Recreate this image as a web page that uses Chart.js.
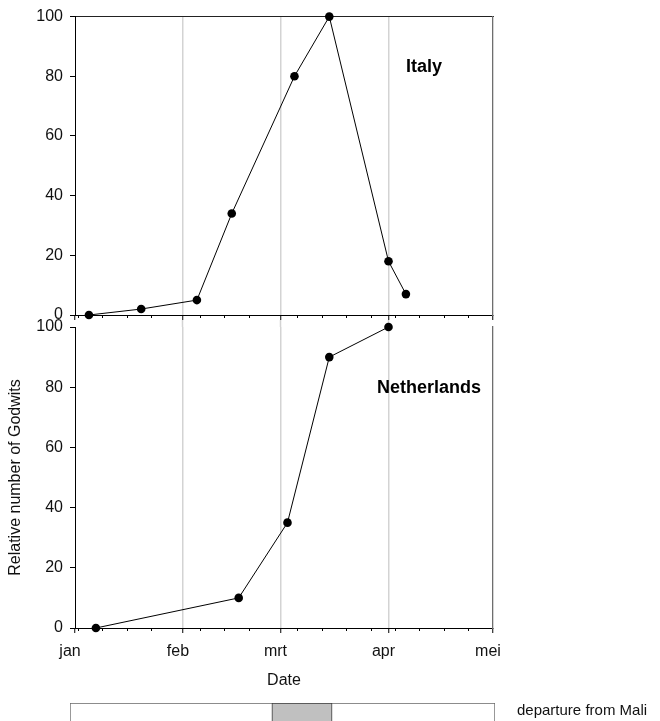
<!DOCTYPE html>
<html>
<head>
<meta charset="utf-8">
<title>Relative number of Godwits</title>
<script src="https://cdn.jsdelivr.net/npm/chart.js@4.4.1/dist/chart.umd.min.js"></script>
<style>
  html, body { margin: 0; padding: 0; background: #fff; overflow: hidden; width: 660px; height: 721px; }
  canvas { position: absolute; left: 0; top: 0; }
</style>
</head>
<body>
<canvas id="italy" width="660" height="721"></canvas>
<canvas id="netherlands" width="660" height="721"></canvas>
<canvas id="mali" width="660" height="760"></canvas>
<script>
// Day-of-year axis (1 jan = day 0)
const monthDays = [0, 31, 59, 90, 120];
const monthLabels = ['jan', 'feb', 'mrt', 'apr', 'mei'];
const innerMonthDays = [31, 59, 90];
const weekDays = [1, 8, 15, 22, 36, 43, 50, 64, 71, 78, 85, 92, 99, 106, 113];
const yTicks = [0, 20, 40, 60, 80, 100];

// Italy counts
const italyDays = [4, 19, 35, 45, 63, 73, 90, 95];
const italyValues = [0, 2, 5, 34, 80, 100, 18, 7];

// Netherlands counts
const nlDays = [6, 47, 61, 73, 90];
const nlValues = [0, 10, 35, 90, 100];

// Departure period from Mali
const departureLabel = 'departure from Mali';
const departureWindow = [0, 120];
const departureRange = [57, 74];

const FONT = "'Liberation Sans', Arial, Helvetica, sans-serif";
const GRID_GREY = '#d3d3d3';
Chart.defaults.font.family = FONT;
Chart.defaults.color = '#111';
Chart.defaults.animation = false;
Chart.defaults.responsive = false;
Chart.defaults.devicePixelRatio = 1;
Chart.defaults.plugins.legend.display = false;
Chart.defaults.plugins.tooltip.enabled = false;

const fixW = w => s => { s.width = w; };
const fixH = h => s => { s.height = h; };
const toPoints = (xs, ys) => xs.map((d, i) => ({ x: d, y: ys[i] }));

function panelScales(opts) {
  const scales = {
    xWeek: {
      type: 'linear', position: 'bottom', weight: 0, min: 0, max: 120,
      afterBuildTicks: s => { s.ticks = weekDays.map(v => ({ value: v })); },
      ticks: { display: false, autoSkip: false },
      grid: { drawOnChartArea: false, tickLength: 3, tickColor: '#000', tickWidth: 1 },
      border: { display: false },
      afterFit: fixH(0)
    },
    x: {
      type: 'linear', position: 'bottom', weight: 1, min: 0, max: 120,
      afterBuildTicks: s => { s.ticks = monthDays.map(v => ({ value: v })); },
      ticks: {
        display: opts.labels, autoSkip: false, maxRotation: 0, minRotation: 0,
        callback: (v, i) => monthLabels[i],
        font: { size: 16 }, padding: 9, labelOffset: -5, color: '#111'
      },
      grid: {
        color: c => (c.index > 0 && c.index < monthDays.length - 1) ? GRID_GREY : 'rgba(0,0,0,0)',
        lineWidth: 1.5, tickLength: 5, tickColor: '#000', tickWidth: 1
      },
      border: { display: true, color: '#000', width: 1 },
      title: opts.labels ? { display: true, text: 'Date', font: { size: 16 }, color: '#111', padding: { top: 0, bottom: 0 } } : { display: false },
      afterFit: fixH(opts.xHeight)
    },
    xTop: {
      type: 'linear', position: 'top', weight: 1, min: 0, max: 120, display: opts.topBorder,
      ticks: { display: false },
      grid: { drawOnChartArea: false, drawTicks: false },
      border: { display: true, color: '#222', width: 1 },
      afterFit: fixH(0)
    },
    y: {
      type: 'linear', position: 'left', min: 0, max: 100,
      afterBuildTicks: s => { s.ticks = yTicks.map(v => ({ value: v })); },
      ticks: { font: { size: 16 }, padding: 7, color: '#111' },
      grid: { drawOnChartArea: false, tickLength: 5, tickColor: '#000' },
      border: { display: true, color: '#000', width: 1 },
      title: opts.yTitle ? { display: true, text: 'Relative number of Godwits', font: { size: 16 }, color: '#111', padding: { top: 6, bottom: 0 } } : { display: false },
      afterFit: fixW(75)
    },
    yRight: {
      type: 'linear', position: 'right', min: 0, max: 100,
      ticks: { display: false },
      grid: { drawOnChartArea: false, drawTicks: false },
      border: { display: true, color: '#6e6e6e', width: 1.3 },
      afterFit: fixW(0)
    }
  };
  if (opts.gapGrid) {
    // month grid lines carried up through the gap between the two panels
    scales.xGap = {
      type: 'linear', position: 'top', weight: 0, min: 0, max: 120,
      afterBuildTicks: s => { s.ticks = innerMonthDays.map(v => ({ value: v })); },
      ticks: { display: false, autoSkip: false },
      grid: { drawOnChartArea: false, tickLength: opts.gapGrid, tickColor: GRID_GREY, tickWidth: 1.5 },
      border: { display: false },
      afterFit: fixH(0)
    };
  }
  return scales;
}

function panelLabel(text, cx, cy) {
  return {
    id: 'panelLabel',
    afterDraw(chart) {
      const ctx = chart.ctx;
      ctx.save();
      ctx.font = 'bold 18px ' + FONT;
      ctx.fillStyle = '#000';
      ctx.textAlign = 'center';
      ctx.textBaseline = 'middle';
      ctx.fillText(text, cx, cy);
      ctx.restore();
    }
  };
}

function seriesDataset(xs, ys) {
  return {
    data: toPoints(xs, ys),
    showLine: true,
    borderColor: '#000',
    borderWidth: 1,
    pointRadius: 4.3,
    pointBackgroundColor: '#000',
    pointBorderColor: '#000',
    pointBorderWidth: 0,
    clip: false,
    xAxisID: 'x',
    yAxisID: 'y'
  };
}

new Chart(document.getElementById('italy'), {
  type: 'scatter',
  data: { datasets: [seriesDataset(italyDays, italyValues)] },
  options: {
    layout: { padding: { left: 0, top: 14, right: 167, bottom: 721 - 315 } },
    scales: panelScales({ labels: false, xHeight: 0, topBorder: true, yTitle: false, gapGrid: 0 })
  },
  plugins: [panelLabel('Italy', 424, 67)]
});

new Chart(document.getElementById('netherlands'), {
  type: 'scatter',
  data: { datasets: [seriesDataset(nlDays, nlValues)] },
  options: {
    layout: { padding: { left: 0, top: 327, right: 167, bottom: 721 - 628 - 62 } },
    scales: panelScales({ labels: true, xHeight: 62, topBorder: false, yTitle: true, gapGrid: 7 })
  },
  plugins: [panelLabel('Netherlands', 429, 388)]
});

new Chart(document.getElementById('mali'), {
  type: 'bar',
  data: {
    labels: [departureLabel],
    datasets: [
      { data: [departureRange], backgroundColor: '#c0c0c0', borderColor: '#3a3a3a', borderWidth: 1,
        borderSkipped: false, barPercentage: 1, categoryPercentage: 1, grouped: false },
      { data: [departureWindow], backgroundColor: '#ffffff', borderColor: '#666666', borderWidth: 1,
        borderSkipped: false, barPercentage: 1, categoryPercentage: 1, grouped: false }
    ]
  },
  options: {
    indexAxis: 'y',
    layout: { padding: { left: 70, top: 703, right: 0, bottom: 30 } },
    scales: {
      x: { type: 'linear', min: 0, max: 120, display: false },
      y: {
        type: 'category', position: 'right',
        ticks: { font: { size: 15 }, color: '#111', padding: 22, labelOffset: -5 },
        grid: { drawOnChartArea: false, drawTicks: false },
        border: { display: false },
        afterFit: fixW(165)
      }
    }
  }
});
</script>
</body>
</html>
